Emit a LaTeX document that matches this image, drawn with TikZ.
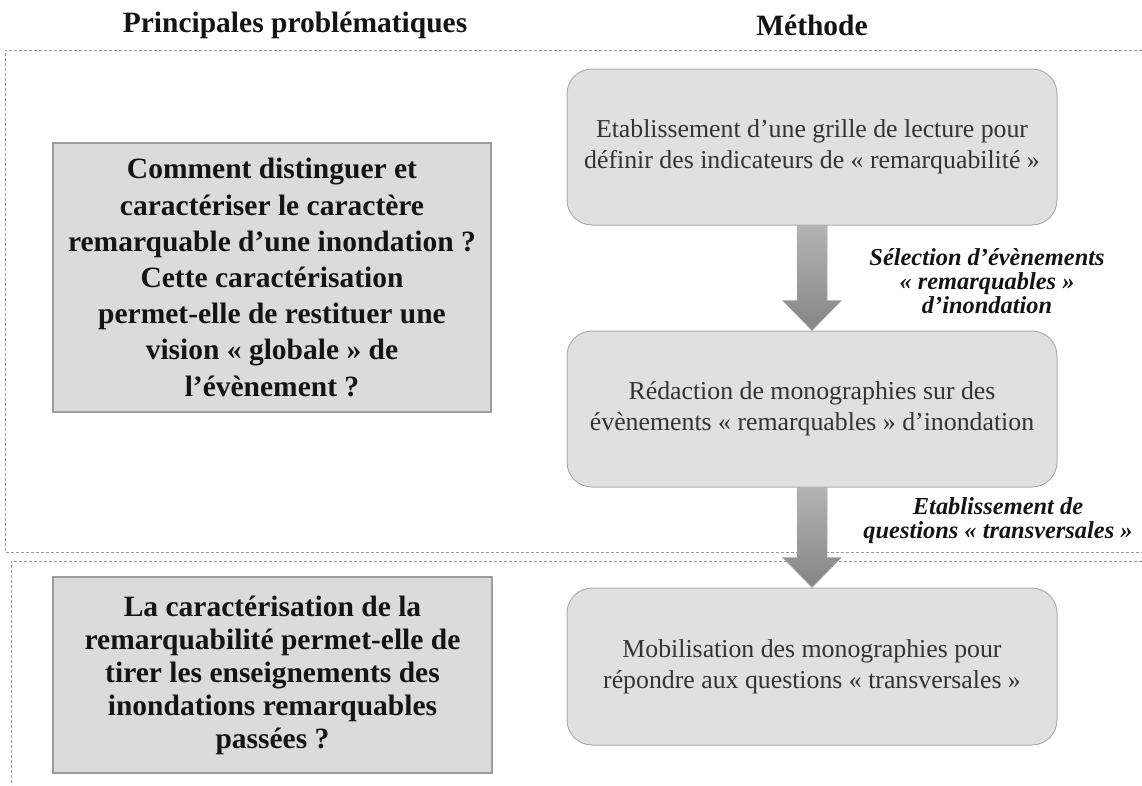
\documentclass[tikz,border=0pt]{standalone}
\usepackage{fontspec}
\setmainfont{Liberation Serif}
\usetikzlibrary{calc}
\definecolor{dashc}{HTML}{9A9A9A}
\definecolor{qfill}{HTML}{DBDBDB}
\definecolor{qdraw}{HTML}{9C9C9C}
\definecolor{mfill}{HTML}{E0E0E0}
\definecolor{mdraw}{HTML}{ADADAD}
\definecolor{atop}{HTML}{B4B4B4}
\definecolor{abot}{HTML}{858585}
\definecolor{txt}{HTML}{141414}
\definecolor{mtxt}{HTML}{333333}
\newcommand\blockarrow[2]{\shade[top color=atop, bottom color=abot, draw=mdraw, line width=0.5pt]
  let \p1=(#1.south), \p2=(#2.north) in
  (\x1-15pt,\y1) -- (\x1+15pt,\y1) -- (\x1+15pt,\y2+30pt) -- (\x1+29.5pt,\y2+30pt)
  -- (\x1,\y2) -- (\x1-29.5pt,\y2+30pt) -- (\x1-15pt,\y2+30pt) -- cycle;}
\begin{document}
\begin{tikzpicture}[x=1pt,y=-1pt,
 hdr/.style={font=\fontsize{29.5}{32}\selectfont\bfseries, text=txt, inner sep=0},
 qbox/.style={draw=qdraw, line width=1.5pt, fill=qfill, align=center, text=txt, inner sep=0, font=\fontsize{29.5}{36.2}\selectfont\bfseries},
 mbox/.style={draw=mdraw, line width=1pt, fill=mfill, rounded corners=25pt, minimum width=490pt, minimum height=156pt, align=center, text=mtxt, inner sep=0, font=\fontsize{25.8}{31}\selectfont},
 lab/.style={align=center, text=txt, inner sep=0, font=\fontsize{24.4}{24}\selectfont\bfseries\itshape},
 zone/.style={draw=dashc, dash pattern=on 3pt off 2pt, line width=0.8pt}]
\useasboundingbox (0,0) rectangle (1142,785);
\draw[zone] (1142,50) -- (5,50) -- (5,552) -- (1142,552);
\draw[zone] (1142,561) -- (11,561) -- (11,785);

\node[hdr] (hP) at (295,25) {Principales problématiques};
\node[hdr] (hM) at (812,25) {Méthode};

\node[qbox, minimum width=438pt, minimum height=269pt] (q1) at (272,277.5)
 {Comment distinguer et\\caractériser le caractère\\remarquable d’une inondation ?\\Cette caractérisation\\permet-elle de restituer une\\vision « globale » de\\l’évènement ?};
\node[qbox, minimum width=439pt, minimum height=196pt, font=\fontsize{29.5}{33}\selectfont\bfseries] (q2) at (272.5,675)
 {La caractérisation de la\\remarquabilité permet-elle de\\tirer les enseignements des\\inondations remarquables\\passées ?};

\node[mbox] (mA) at (812,147) {Etablissement d’une grille de lecture pour\\définir des indicateurs de « remarquabilité »};
\node[mbox] (mB) at (812,409) {Rédaction de monographies sur des\\évènements « remarquables » d’inondation};
\node[mbox, minimum height=157pt] (mC) at (812,666.5) {Mobilisation des monographies pour\\répondre aux questions « transversales »};

\blockarrow{mA}{mB}
\blockarrow{mB}{mC}

\node[lab] (l1) at (987,281) {Sélection d’évènements\\« remarquables »\\d’inondation};
\node[lab] (l2) at (998,521) {Etablissement de\\questions « transversales »};
\end{tikzpicture}
\end{document}
